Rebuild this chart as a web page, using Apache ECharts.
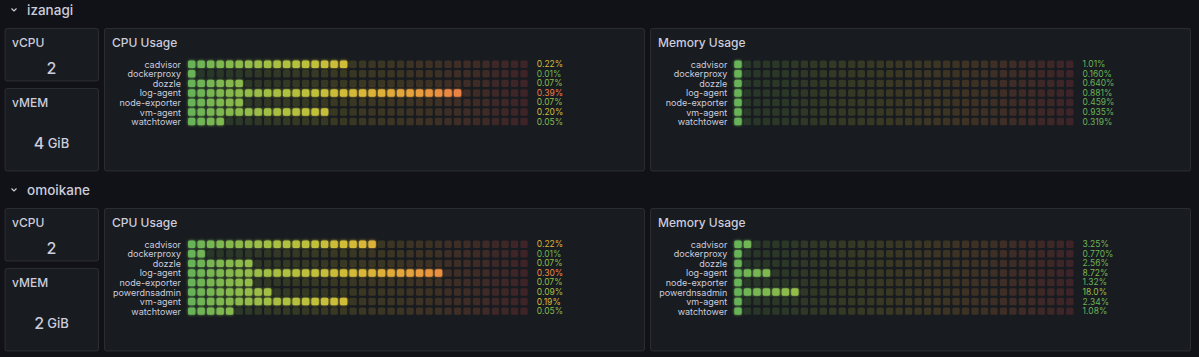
<!DOCTYPE html>
<html><head><meta charset="utf-8">
<script src="https://cdn.jsdelivr.net/npm/echarts@6/dist/echarts.min.js"></script>
<style>html,body{margin:0;padding:0;background:#111217;}#c{width:1199px;height:357px;}</style>
</head><body><div id="c"></div>
<script>
// ---- data ----
const hosts = ['izanagi', 'omoikane'];
const izanagiNames = ['cadvisor','dockerproxy','dozzle','log-agent','node-exporter','vm-agent','watchtower'];
const izanagiCpu = [0.22, 0.01, 0.07, 0.39, 0.07, 0.20, 0.05];
const izanagiMem = [1.01, 0.160, 0.640, 0.881, 0.459, 0.935, 0.319];
const omoikaneNames = ['cadvisor','dockerproxy','dozzle','log-agent','node-exporter','powerdnsadmin','vm-agent','watchtower'];
const omoikaneCpu = [0.22, 0.012, 0.07, 0.30, 0.07, 0.091, 0.19, 0.05];
const omoikaneMem = [3.25, 0.770, 2.56, 8.72, 1.32, 18.0, 2.34, 1.08];
const izanagiCpuMax = 0.49;
const omoikaneCpuMax = 0.404;
const memMax = 100;
const statTitles = ['vCPU', 'vMEM'];
const izanagiStats = [2, 4];
const omoikaneStats = [2, 2];
const statUnits = ['', 'GiB'];
const panelTitles = ['CPU Usage', 'Memory Usage'];
const CELLS = 36;

// ---- colour scheme (continuous green-yellow-red, basis interpolation) ----
const stops = [[104,178,88],[240,212,40],[236,70,88]];
function basis(t1, v0, v1, v2, v3) {
  const t2 = t1*t1, t3 = t2*t1;
  return ((1 - 3*t1 + 3*t2 - t3)*v0 + (4 - 6*t2 + 3*t3)*v1 + (1 + 3*t1 + 3*t2 - 3*t3)*v2 + t3*v3) / 6;
}
function scheme(t) {
  const n = stops.length - 1;
  let i;
  if (t <= 0) { t = 0; i = 0; } else if (t >= 1) { t = 1; i = n - 1; } else i = Math.floor(t*n);
  const out = [];
  for (let c = 0; c < 3; c++) {
    const v1 = stops[i][c], v2 = stops[i+1][c];
    const v0 = i > 0 ? stops[i-1][c] : 2*v1 - v2;
    const v3 = i < n-1 ? stops[i+2][c] : 2*v2 - v1;
    out.push(Math.max(0, Math.min(255, Math.round(basis((t - i/n)*n, v0, v1, v2, v3)))));
  }
  return out;
}
const rgb = c => `rgb(${c[0]},${c[1]},${c[2]})`;
const rgba = (c, a) => `rgba(${c[0]},${c[1]},${c[2]},${a})`;

const fmtCpu = v => v.toFixed(2) + '%';
const fmtMem = v => v.toPrecision(3) + '%';

function makeRender(max, fmt) {
  return function (params, api) {
    const v = api.value(0), ci = api.value(1);
    const p0 = api.coord([0, ci]), p1 = api.coord([max, ci]);
    const bandH = api.size([0, 1])[1];
    const pitch = (p1[0] - p0[0]) / CELLS;
    const gap = 2.1, h = bandH - gap;
    const children = [];
    for (let i = 0; i < CELLS; i++) {
      const cellVal = max / CELLS * i;
      const col = scheme(i / CELLS);
      const lit = v >= cellVal;
      children.push({
        type: 'rect',
        shape: { x: p0[0] + i*pitch, y: p0[1] - h/2, width: pitch - gap, height: h, r: 1.5 },
        style: lit ? { fill: rgb(col), shadowBlur: 3, shadowColor: rgba(col, 0.8) } : { fill: rgba(col, 0.18) }
      });
    }
    children.push({
      type: 'text',
      style: { x: p1[0] + 7, y: p0[1], text: fmt(v), fill: rgb(scheme(v / max)),
               font: '8.5px Inter', verticalAlign: 'middle', align: 'left' }
    });
    return { type: 'group', children };
  };
}

const panels = [
  { names: izanagiNames, values: izanagiCpu, max: izanagiCpuMax, fmt: fmtCpu, left: 188, top: 59.5, width: 341.8 },
  { names: izanagiNames, values: izanagiMem, max: memMax, fmt: fmtMem, left: 734.3, top: 59.5, width: 341.3 },
  { names: omoikaneNames, values: omoikaneCpu, max: omoikaneCpuMax, fmt: fmtCpu, left: 188, top: 239.5, width: 341.8 },
  { names: omoikaneNames, values: omoikaneMem, max: memMax, fmt: fmtMem, left: 734.3, top: 239.5, width: 341.3 }
];
const rowPitch = 9.55;

const grid = [], xAxis = [], yAxis = [], series = [];
panels.forEach((p, k) => {
  grid.push({ left: p.left, top: p.top, width: p.width, height: p.names.length * rowPitch });
  xAxis.push({ gridIndex: k, type: 'value', min: 0, max: p.max, show: false });
  yAxis.push({ gridIndex: k, type: 'category', data: p.names, inverse: true,
    axisLine: { show: false }, axisTick: { show: false }, splitLine: { show: false },
    axisLabel: { color: '#ccccdc', fontSize: 9, fontFamily: 'Inter', margin: 7, interval: 0 } });
  series.push({ type: 'custom', xAxisIndex: k, yAxisIndex: k, renderItem: makeRender(p.max, p.fmt),
    encode: { x: 0, y: 1 }, silent: true, clip: false,
    data: p.values.map((v, i) => [v, i]) });
});

// ---- panel frames and texts ----
const graphics = [];
const panelStyle = { fill: '#181b1f', stroke: 'rgba(204,204,220,0.12)', lineWidth: 1 };
const statSets = [izanagiStats, omoikaneStats];
hosts.forEach((h, r) => {
  const oy = r * 180;
  graphics.push({ type: 'polyline', shape: { points: [[11.5, 8.5 + oy], [14, 11 + oy], [16.5, 8.5 + oy]] },
    style: { stroke: '#ccccdc', lineWidth: 1.2, fill: null } });
  graphics.push({ type: 'text', x: 27, y: 10 + oy,
    style: { text: h, fill: '#ccccdc', font: '500 13.5px Inter', verticalAlign: 'middle' } });
  const statBoxes = [[28.5, 52.5, 39.5], [88.5, 82.5, 54.5]];
  statBoxes.forEach((b, s) => {
    graphics.push({ type: 'rect', shape: { x: 5, y: b[0] + oy, width: 93.5, height: b[1], r: 2 }, style: panelStyle, z: 0 });
    graphics.push({ type: 'text', x: 12, y: b[0] + oy + 13.5,
      style: { text: statTitles[s], fill: '#ccccdc', font: '500 12px Inter', verticalAlign: 'middle' } });
    const val = statSets[r][s];
    const txt = statUnits[s] ? `{a|${val}} {b|${statUnits[s]}}` : `{a|${val}}`;
    graphics.push({ type: 'text', x: 51.5, y: b[0] + oy + b[2],
      style: { text: txt, align: 'center', verticalAlign: 'middle',
        rich: { a: { fill: '#ccccdc', font: '500 16px Inter' }, b: { fill: '#ccccdc', font: '500 13px Inter' } } } });
  });
  [[104.5, panelTitles[0]], [650.5, panelTitles[1]]].forEach(pp => {
    graphics.push({ type: 'rect', shape: { x: pp[0], y: 28.5 + oy, width: 540, height: 142.5, r: 2 }, style: panelStyle, z: 0 });
    graphics.push({ type: 'text', x: pp[0] + 7.5, y: 42 + oy,
      style: { text: pp[1], fill: '#ccccdc', font: '500 12px Inter', verticalAlign: 'middle' } });
  });
});

const chart = echarts.init(document.getElementById('c'), null, { renderer: 'svg' });
chart.setOption({
  backgroundColor: '#111217',
  animation: false,
  graphic: { elements: graphics.map(g => Object.assign({}, g, { z: g.z === 0 ? -10 : -5 })) },
  grid, xAxis, yAxis, series
});
</script>
</body></html>
